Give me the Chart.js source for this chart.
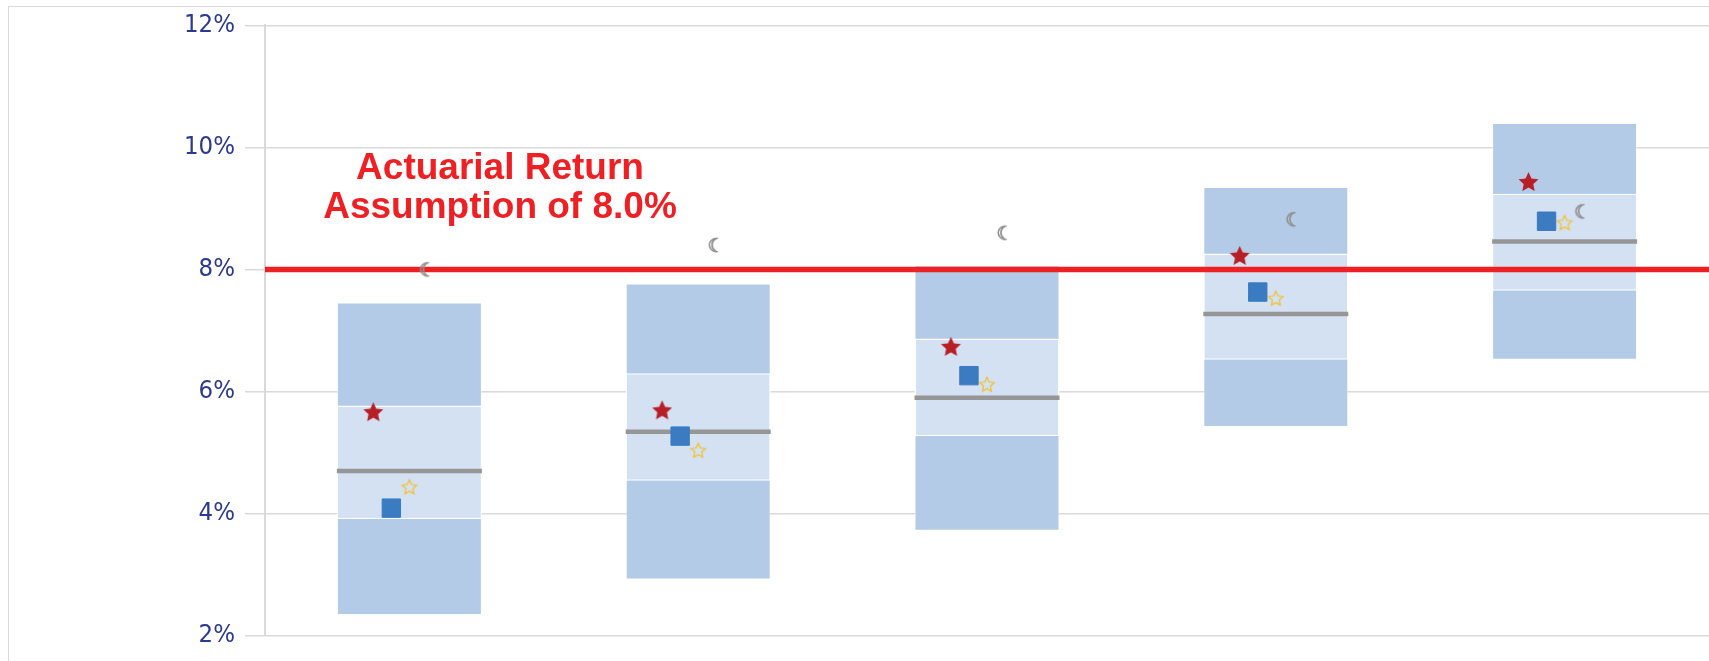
<!DOCTYPE html>
<html>
<head>
<meta charset="utf-8">
<script src="https://cdn.jsdelivr.net/npm/chart.js@4.4.1/dist/chart.umd.min.js"></script>
<style>
  html, body { margin: 0; padding: 0; background: #fff; }
  #wrap { position: relative; width: 1709px; height: 661px; overflow: hidden; }
  #frame { position: absolute; left: 8px; top: 6px; width: 1800px; height: 800px; border: 1.5px solid #d9d9d9; }
  #returns { position: absolute; left: 0; top: 0; }
</style>
</head>
<body>
<div id="wrap">
  <div id="frame"></div>
  <canvas id="returns" width="1709" height="661"></canvas>
</div>
<script>
// values (percent)
const portfolios = ["Portfolio 1", "Portfolio 2", "Portfolio 3", "Portfolio 4", "Portfolio 5"];
const rangeLow = [2.34, 2.92, 3.72, 5.42, 6.52];
const rangeHigh = [7.46, 7.77, 8.07, 9.35, 10.40];
const quartileLow = [3.91, 4.54, 5.27, 6.52, 7.65];
const quartileHigh = [5.77, 6.30, 6.87, 8.26, 9.24];
const median = [4.70, 5.34, 5.90, 7.27, 8.46];
const redStar = [5.67, 5.70, 6.74, 8.23, 9.44];
const blueSquare = [4.09, 5.27, 6.26, 7.63, 8.79];
const goldStar = [4.44, 5.04, 6.12, 7.53, 8.77];
const moon = [7.97, 8.37, 8.57, 8.79, 8.92];
const assumedReturn = 8.0;
const yTicks = [2, 4, 6, 8, 10, 12];

const tickColor = "#2B3990";
const dodge = 0.0625; // marker spacing inside a category

function starImage(outer, fill, stroke, lineW) {
  const size = Math.ceil(outer * 2 + lineW * 2 + 2);
  const c = document.createElement("canvas");
  c.width = size;
  c.height = size;
  const g = c.getContext("2d");
  g.translate(size / 2, size / 2 + outer * 0.095);
  g.beginPath();
  for (let i = 0; i < 10; i++) {
    const r = i % 2 ? outer * 0.48 : outer;
    const a = -Math.PI / 2 + i * Math.PI / 5;
    g.lineTo(r * Math.cos(a), r * Math.sin(a));
  }
  g.closePath();
  if (fill) {
    g.fillStyle = fill;
    g.fill();
  }
  if (stroke) {
    g.lineWidth = lineW;
    g.strokeStyle = stroke;
    g.lineJoin = "miter";
    g.stroke();
  }
  return c;
}

function moonImage() {
  const c = document.createElement("canvas");
  c.width = 24;
  c.height = 26;
  const g = c.getContext("2d");
  g.font = '19px "DejaVu Sans"';
  g.textAlign = "center";
  g.textBaseline = "middle";
  g.fillStyle = "#c8c8c8";
  g.fillText("\u263E", 12, 13);
  g.lineWidth = 0.8;
  g.strokeStyle = "#8e8e8e";
  g.strokeText("\u263E", 12, 13);
  return c;
}

function dodged(values, k) {
  return values.map((v, i) => ({ x: i + 0.5 + k * dodge, y: v }));
}

function markerSet(label, values, k, style, radius, color) {
  return {
    type: "line",
    label: label,
    xAxisID: "x2",
    data: dodged(values, k),
    showLine: false,
    pointStyle: style,
    pointRadius: radius,
    pointHoverRadius: radius,
    pointBackgroundColor: color,
    pointBorderColor: color,
    pointBorderWidth: 1,
    order: 1
  };
}

const assumptionLabel = {
  id: "assumptionLabel",
  afterDatasetsDraw(chart) {
    const ctx = chart.ctx;
    const y = chart.scales.y.getPixelForValue(assumedReturn);
    const x = chart.chartArea.left + 235;
    ctx.save();
    ctx.font = 'bold 37px "Liberation Sans", Arial, sans-serif';
    ctx.fillStyle = "#EE2024";
    ctx.textAlign = "center";
    ctx.textBaseline = "alphabetic";
    ctx.fillText("Actuarial Return", x, y - 90);
    ctx.fillText("Assumption of " + assumedReturn.toFixed(1) + "%", x, y - 51.5);
    ctx.restore();
  }
};

const ctx = document.getElementById("returns").getContext("2d");
const returnsChart = new Chart(ctx, {
  type: "bar",
  data: {
    labels: portfolios,
    datasets: [
      {
        label: "Range",
        data: rangeLow.map((v, i) => [v, rangeHigh[i]]),
        backgroundColor: "#B3CBE7",
        borderColor: "rgba(255,255,255,0.55)",
        borderWidth: 1,
        borderSkipped: false,
        grouped: false,
        categoryPercentage: 1,
        barPercentage: 0.502,
        order: 10
      },
      {
        label: "Interquartile",
        data: quartileLow.map((v, i) => [v, quartileHigh[i]]),
        backgroundColor: "#D3E1F2",
        borderColor: "#ffffff",
        borderWidth: 1.5,
        borderSkipped: false,
        grouped: false,
        categoryPercentage: 1,
        barPercentage: 0.502,
        order: 9
      },
      {
        type: "line",
        label: "Median",
        data: median,
        showLine: false,
        pointStyle: "line",
        pointRadius: 72.5,
        pointHoverRadius: 72.5,
        pointBorderColor: "#969696",
        pointBorderWidth: 4.5,
        order: 8
      },
      {
        type: "line",
        label: "Actuarial assumption",
        xAxisID: "x2",
        data: [{ x: 0, y: assumedReturn }, { x: 5, y: assumedReturn }],
        borderColor: "#EE2024",
        borderWidth: 5.5,
        pointRadius: 0,
        order: 7
      },
      markerSet("Red star", redStar, -2, starImage(10.5, "#B81E25", null, 0), 11, "#B81E25"),
      markerSet("Blue square", blueSquare, -1, "rect", 13, "#3A7BC2"),
      markerSet("Gold star", goldStar, 0, starImage(7.6, null, "#F2C235", 1.3), 8, "#F2C235"),
      markerSet("Moon", moon, 1, moonImage(), 12, "#9a9a9a")
    ]
  },
  options: {
    responsive: false,
    animation: false,
    layout: { autoPadding: false, padding: { left: 0, right: 0, top: 25, bottom: 25 } },
    plugins: {
      legend: { display: false },
      tooltip: { enabled: false }
    },
    scales: {
      x: { display: false },
      x2: { type: "linear", display: false, offset: false, min: 0, max: 5 },
      y: {
        min: 2,
        max: 12,
        afterBuildTicks: (scale) => {
          scale.ticks = yTicks.map((v) => ({ value: v }));
        },
        afterFit: (scale) => {
          scale.width = 265;
        },
        ticks: {
          callback: (v) => v + "%",
          color: tickColor,
          padding: 10,
          font: { family: '"DejaVu Sans Condensed", "DejaVu Sans", sans-serif', size: 25.5 }
        },
        grid: { color: "#d9d9d9", lineWidth: 1.5, tickLength: 20 },
        border: { display: true, color: "#d9d9d9", width: 2 }
      }
    }
  },
  plugins: [assumptionLabel]
});
</script>
</body>
</html>
